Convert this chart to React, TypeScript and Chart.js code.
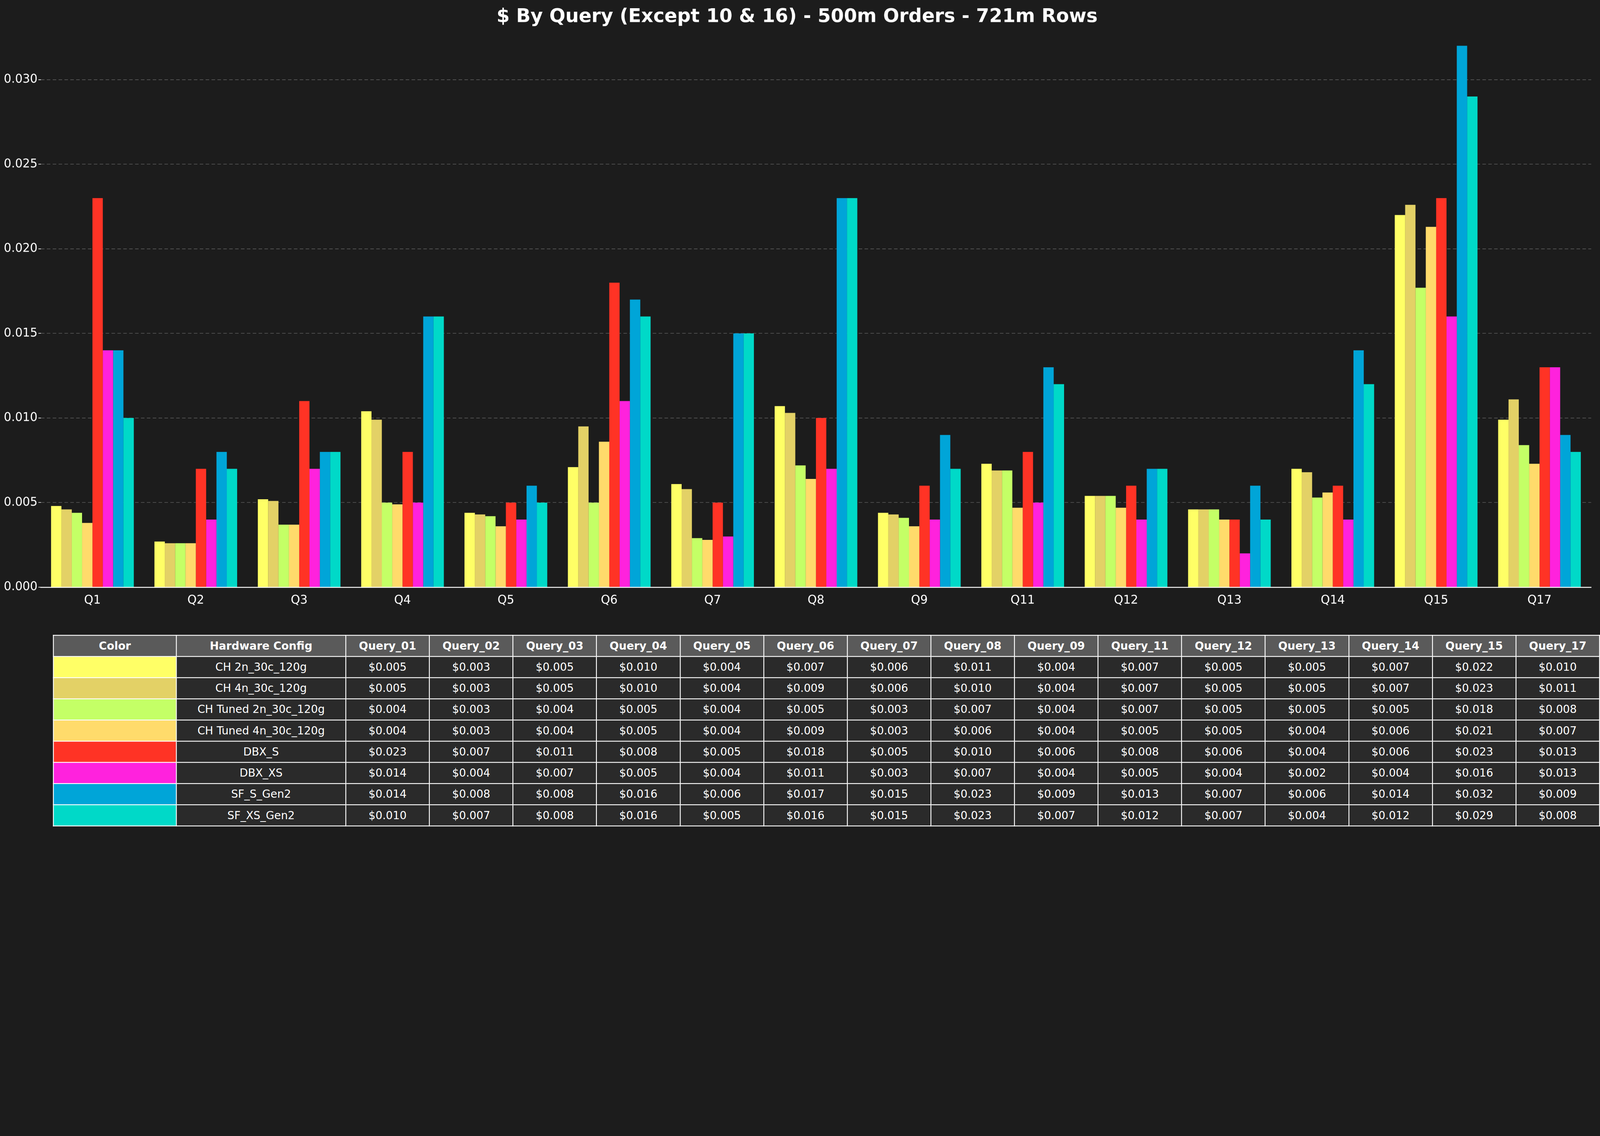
import { useEffect, useRef, useState } from "react"
import Chart from "chart.js/auto"

const queries = ["Q1", "Q2", "Q3", "Q4", "Q5", "Q6", "Q7", "Q8", "Q9", "Q11", "Q12", "Q13", "Q14", "Q15", "Q17"]
const queryCols = ["Query_01", "Query_02", "Query_03", "Query_04", "Query_05", "Query_06", "Query_07", "Query_08", "Query_09", "Query_11", "Query_12", "Query_13", "Query_14", "Query_15", "Query_17"]
const configs = ["CH 2n_30c_120g", "CH 4n_30c_120g", "CH Tuned 2n_30c_120g", "CH Tuned 4n_30c_120g", "DBX_S", "DBX_XS", "SF_S_Gen2", "SF_XS_Gen2"]
const colors = ["#ffff66", "#e3d166", "#c4ff66", "#ffdb6b", "#ff3325", "#ff22dd", "#00a5d8", "#00d9c8"]

const ch2n = [0.0048, 0.0027, 0.0052, 0.0104, 0.0044, 0.0071, 0.0061, 0.0107, 0.0044, 0.0073, 0.0054, 0.0046, 0.0070, 0.0220, 0.0099]
const ch4n = [0.0046, 0.0026, 0.0051, 0.0099, 0.0043, 0.0095, 0.0058, 0.0103, 0.0043, 0.0069, 0.0054, 0.0046, 0.0068, 0.0226, 0.0111]
const chTuned2n = [0.0044, 0.0026, 0.0037, 0.0050, 0.0042, 0.0050, 0.0029, 0.0072, 0.0041, 0.0069, 0.0054, 0.0046, 0.0053, 0.0177, 0.0084]
const chTuned4n = [0.0038, 0.0026, 0.0037, 0.0049, 0.0036, 0.0086, 0.0028, 0.0064, 0.0036, 0.0047, 0.0047, 0.0040, 0.0056, 0.0213, 0.0073]
const dbxS = [0.023, 0.007, 0.011, 0.008, 0.005, 0.018, 0.005, 0.010, 0.006, 0.008, 0.006, 0.004, 0.006, 0.023, 0.013]
const dbxXS = [0.014, 0.004, 0.007, 0.005, 0.004, 0.011, 0.003, 0.007, 0.004, 0.005, 0.004, 0.002, 0.004, 0.016, 0.013]
const sfS = [0.014, 0.008, 0.008, 0.016, 0.006, 0.017, 0.015, 0.023, 0.009, 0.013, 0.007, 0.006, 0.014, 0.032, 0.009]
const sfXS = [0.010, 0.007, 0.008, 0.016, 0.005, 0.016, 0.015, 0.023, 0.007, 0.012, 0.007, 0.004, 0.012, 0.029, 0.008]
const series = [ch2n, ch4n, chTuned2n, chTuned4n, dbxS, dbxXS, sfS, sfXS]

const FONT = "'DejaVu Sans', sans-serif"
const W = 5439
const H = 2908

export default function App() {
  const chartRef = useRef<HTMLCanvasElement>(null)
  const [scale, setScale] = useState(() => window.innerWidth / W)

  useEffect(() => {
    document.body.style.margin = "0"
    document.body.style.background = "#1c1c1c"
    document.body.style.overflow = "hidden"
    setScale(window.innerWidth / W)
  }, [])

  useEffect(() => {
    if (!chartRef.current) return
    const chart = new Chart(chartRef.current, {
      type: "bar",
      data: {
        labels: queries,
        datasets: series.map((d, i) => ({
          label: configs[i],
          data: d,
          backgroundColor: colors[i],
          borderWidth: 0,
          barPercentage: 1,
          categoryPercentage: 0.8,
        })),
      },
      options: {
        animation: false,
        responsive: false,
        maintainAspectRatio: false,
        devicePixelRatio: 1,
        layout: { padding: { left: 10, right: 30, top: 10 } },
        plugins: {
          legend: { display: false },
          tooltip: { enabled: false },
          title: {
            display: true,
            text: "$ By Query (Except 10 & 16) - 500m Orders - 721m Rows",
            color: "#ffffff",
            font: { family: FONT, size: 64, weight: "bold" },
            padding: { top: 10, bottom: 30 },
          },
        },
        scales: {
          x: {
            grid: { display: false },
            border: { color: "#ffffff", width: 3 },
            ticks: { color: "#ffffff", font: { family: FONT, size: 40 }, padding: 14 },
          },
          y: {
            min: 0,
            max: 0.0325,
            afterBuildTicks: (axis: any) => {
              axis.ticks = [0, 0.005, 0.01, 0.015, 0.02, 0.025, 0.03].map((v) => ({ value: v }))
            },
            grid: { color: "#5a5a5a", lineWidth: 2, drawTicks: true, tickColor: "#ffffff" },
            border: { display: false, dash: [12, 8] },
            ticks: {
              color: "#ffffff",
              font: { family: FONT, size: 40 },
              callback: (v: any) => Number(v).toFixed(3),
            },
          },
        },
      },
    })
    return () => chart.destroy()
  }, [])

  const cell: React.CSSProperties = {
    border: "3px solid #ffffff",
    color: "#ffffff",
    textAlign: "center",
    fontSize: 37,
    height: 69,
    padding: 0,
    fontFamily: FONT,
  }
  const head: React.CSSProperties = { ...cell, background: "#5a5a5a", fontWeight: "bold" }
  const body: React.CSSProperties = { ...cell, background: "#2a2a2a" }

  return (
    <div style={{ width: W * scale, height: H * scale, overflow: "hidden", background: "#1c1c1c" }}>
      <div
        style={{
          position: "relative",
          width: W,
          height: H,
          background: "#1c1c1c",
          transform: `scale(${scale})`,
          transformOrigin: "0 0",
        }}
      >
        <canvas ref={chartRef} width={W} height={2080} style={{ position: "absolute", left: 0, top: 0, width: W, height: 2080 }} />
        <table
          style={{
            position: "absolute",
            left: 180,
            top: 2158,
            width: 5259,
            borderCollapse: "collapse",
            tableLayout: "fixed",
          }}
        >
          <colgroup>
            <col style={{ width: 418 }} />
            <col style={{ width: 576 }} />
            {queryCols.map((q) => (
              <col key={q} />
            ))}
          </colgroup>
          <thead>
            <tr>
              <th style={head}>Color</th>
              <th style={head}>Hardware Config</th>
              {queryCols.map((q) => (
                <th key={q} style={head}>{q}</th>
              ))}
            </tr>
          </thead>
          <tbody>
            {configs.map((c, i) => (
              <tr key={c}>
                <td style={{ ...cell, background: colors[i] }}></td>
                <td style={body}>{c}</td>
                {series[i].map((v, j) => (
                  <td key={j} style={body}>${v.toFixed(3)}</td>
                ))}
              </tr>
            ))}
          </tbody>
        </table>
      </div>
    </div>
  )
}
